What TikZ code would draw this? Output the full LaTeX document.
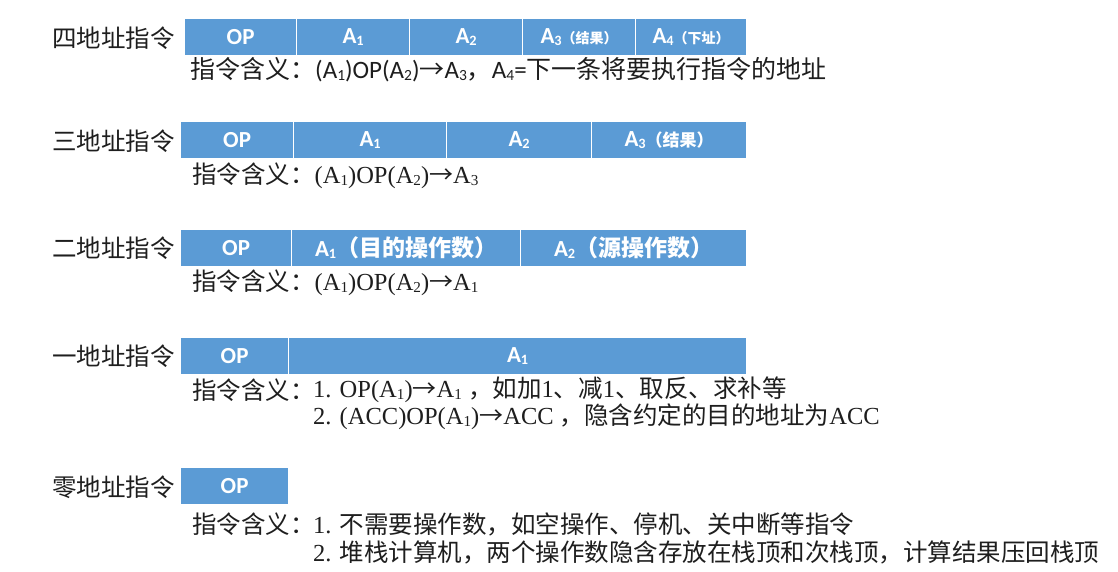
\documentclass[tikz,border=0pt]{standalone}
\usepackage{fontspec}
\usepackage{graphicx}
\setmainfont{Liberation Serif}
\newfontfamily\calib{Carlito}
\newfontfamily\cjk{Noto Sans CJK SC}
\definecolor{barblue}{HTML}{5B9BD5}
\definecolor{ink}{HTML}{1E1E1E}
\newcommand\lo[1]{\raisebox{-0.06em}{\scalebox{0.62}{#1}}}
\newcommand\fs[1]{\fontsize{#1}{#1}\selectfont}
\newcommand\zh[1]{{\cjk\fs{24.5}#1}}
\newcommand\arr{{\cjk\fs{24}→}}
\tikzset{
  cell/.style={fill=barblue, draw=white, line width=1.2pt, minimum height=37pt,
    inner sep=0pt, text=white, anchor=north west, font=\calib\bfseries\fs{23}},
  rowlabel/.style={anchor=east, inner sep=0pt, text=ink, font=\cjk\fs{24.5}},
  meaning/.style={anchor=west, inner sep=0pt, text=ink, font=\fs{24.5}},
}
\begin{document}
\begin{tikzpicture}[x=1pt,y=-1pt]
\useasboundingbox[fill=white] (0,0) rectangle (1118,572);

% ---------- row 1: four-address ----------
\node[rowlabel] (l4) at (175,38) {四地址指令};
\node[cell, minimum width=112pt] (r1c1) at (184,18) {OP};
\node[cell, minimum width=113pt] (r1c2) at (296,18) {A\lo1};
\node[cell, minimum width=113pt] (r1c3) at (409,18) {A\lo2};
\node[cell, minimum width=113pt] (r1c4) at (522,18) {A\lo3{\cjk\fs{14}（结果）}};
\node[cell, minimum width=111pt] (r1c5) at (635,18) {A\lo4{\cjk\fs{14}（下址）}};
\node[meaning, font=\calib\fs{25}] (m4) at (190,70) {{\cjk 指令含义：}(A\lo1)OP(A\lo2){\cjk →}A\lo3{\cjk ，}A\lo4={\cjk\fs{25}下一条将要执行指令的地址}};

% ---------- row 2: three-address ----------
\node[rowlabel] (l3) at (175,141) {三地址指令};
\node[cell, minimum width=113pt] (r2c1) at (180,121) {OP};
\node[cell, minimum width=153pt] (r2c2) at (293,121) {A\lo1};
\node[cell, minimum width=145pt] (r2c3) at (446,121) {A\lo2};
\node[cell, minimum width=155pt] (r2c4) at (591,121) {A\lo3{\cjk\fs{17}（结果）}};
\node[meaning] (m3) at (192,176) {\zh{指令含义：}(A\lo1)OP(A\lo2)\arr A\lo3};

% ---------- row 3: two-address ----------
\node[rowlabel] (l2) at (175,248) {二地址指令};
\node[cell, minimum width=111pt] (r3c1) at (180,229) {OP};
\node[cell, minimum width=229pt] (r3c2) at (291,229) {A\lo1{\cjk\fs{23}（目的操作数）}};
\node[cell, minimum width=226pt] (r3c3) at (520,229) {A\lo2{\cjk\fs{23}（源操作数）}};
\node[meaning] (m2) at (192,283) {\zh{指令含义：}(A\lo1)OP(A\lo2)\arr A\lo1};

% ---------- row 4: one-address ----------
\node[rowlabel] (l1) at (175,356) {一地址指令};
\node[cell, minimum width=108pt] (r4c1) at (180,337) {OP};
\node[cell, minimum width=458pt] (r4c2) at (288,337) {A\lo1};
\node[meaning] (m1) at (192,390) {\zh{指令含义：}};
\node[meaning] (m1a) at (313,390) {1. OP(A\lo1)\arr A\lo1 \zh{，如加}1\zh{、减}1\zh{、取反、求补等}};
\node[meaning] (m1b) at (313,417) {2. (ACC)OP(A\lo1)\arr ACC \zh{，隐含约定的目的地址为}ACC};

% ---------- row 5: zero-address ----------
\node[rowlabel] (l0) at (175,487) {零地址指令};
\node[cell, minimum width=108pt] (r5c1) at (180,467) {OP};
\node[meaning] (m0) at (192,524) {\zh{指令含义：}};
\node[meaning] (m0a) at (313,524) {1. \zh{不需要操作数，如空操作、停机、关中断等指令}};
\node[meaning] (m0b) at (313,552) {2. \zh{堆栈计算机，两个操作数隐含存放在栈顶和次栈顶，计算结果压回栈顶}};
\end{tikzpicture}
\end{document}
